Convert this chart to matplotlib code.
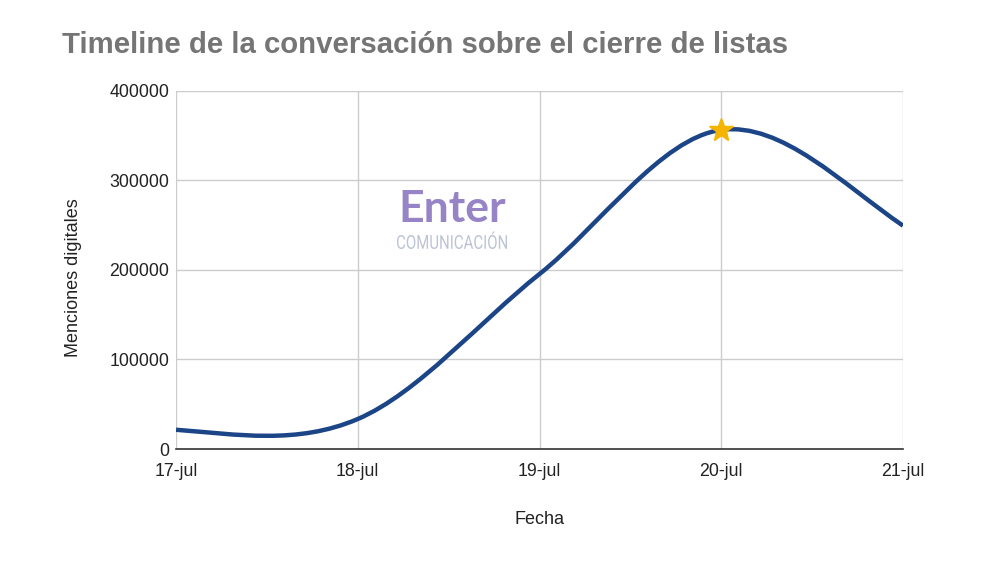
import numpy as np
import matplotlib
matplotlib.use('Agg')
import matplotlib.pyplot as plt
from matplotlib.path import Path
from matplotlib.patches import PathPatch
from matplotlib.textpath import TextPath
from matplotlib.font_manager import FontProperties
from matplotlib.transforms import Affine2D

# data
fechas = ['17-jul', '18-jul', '19-jul', '20-jul', '21-jul']
menciones = [21500, 33500, 195500, 356500, 249500]
y_ticks = [0, 100000, 200000, 300000, 400000]

plt.rcParams['font.family'] = ['Liberation Sans', 'DejaVu Sans']

fig = plt.figure(figsize=(10, 5.64), dpi=100)
ax = fig.add_axes([0.176, 0.2039, 0.727, 0.6348])

x = np.arange(len(fechas), dtype=float)
y = np.array(menciones, dtype=float)

# smooth curve like the sheets "smooth" line: cubic bezier segments
m = np.zeros_like(y)
m[1:-1] = (y[2:] - y[:-2]) / 2
m[0] = 0.6 * (3 * (y[1] - y[0]) - m[1]) / 2
m[-1] = 0.8 * (3 * (y[-1] - y[-2]) - m[-2]) / 2
verts = [(x[0], y[0])]
codes = [Path.MOVETO]
for i in range(len(x) - 1):
    verts += [(x[i] + 1 / 3, y[i] + m[i] / 3),
              (x[i + 1] - 1 / 3, y[i + 1] - m[i + 1] / 3),
              (x[i + 1], y[i + 1])]
    codes += [Path.CURVE4] * 3
ax.add_patch(PathPatch(Path(verts, codes), facecolor='none',
                       edgecolor='#1c4587', lw=3.2, capstyle='butt', zorder=3))

# peak star
ax.plot(x[3], y[3], marker='*', ms=18, color='#f4b400', mec='#f4b400', zorder=4)

ax.set_xlim(0, len(fechas) - 1)
ax.set_ylim(0, 400000)
ax.set_xticks(x)
ax.set_xticklabels(fechas)
ax.set_yticks(y_ticks)
ax.set_yticklabels([str(v) for v in y_ticks])
ax.grid(True, color='#cccccc', lw=1)
ax.set_axisbelow(True)
for s in ['top', 'right', 'left']:
    ax.spines[s].set_visible(False)
ax.spines['bottom'].set_color('#333333')
ax.spines['bottom'].set_linewidth(1.2)
ax.tick_params(length=0, labelsize=12.8, colors='#222222')
ax.tick_params(axis='x', pad=10)
ax.tick_params(axis='y', pad=5)

ax.set_xlabel('Fecha', fontsize=13, color='#222222')
ax.set_ylabel('Menciones digitales', fontsize=13, color='#222222')
ax.xaxis.set_label_coords(0.5, -0.172)
ax.yaxis.set_label_coords(-0.1295, 0.48)

fig.text(0.062, 0.92, 'Timeline de la conversación sobre el cierre de listas',
         fontsize=21.2, fontweight='bold', color='#757575', va='center')

# watermark logo
fig.text(0.4525, 0.629, 'Enter', fontsize=32, fontweight='bold',
         color='#9784c6', ha='center', va='center', family='Lato', zorder=5)

# condensed subtitle: squeeze a text path into the logo box (pixels)
fp = FontProperties(family='Roboto', weight='normal')
tp = TextPath((0, 0), 'COMUNICACIÓN', size=10, prop=fp)
ref = TextPath((0, 0), 'COMUNICACION', size=10, prop=fp).get_extents()
x0, x1, y1 = 397, 507, 564 - 249
sx = (x1 - x0) / ref.width
sy = 14 / ref.height
tr = Affine2D().translate(-ref.x0, -ref.y0).scale(sx, sy).translate(x0, y1)
fig.patches.append(PathPatch(tp, transform=tr, facecolor='#bcc3d5',
                             edgecolor='none', zorder=5))

fig.savefig('out.png', dpi=100, facecolor='white')
